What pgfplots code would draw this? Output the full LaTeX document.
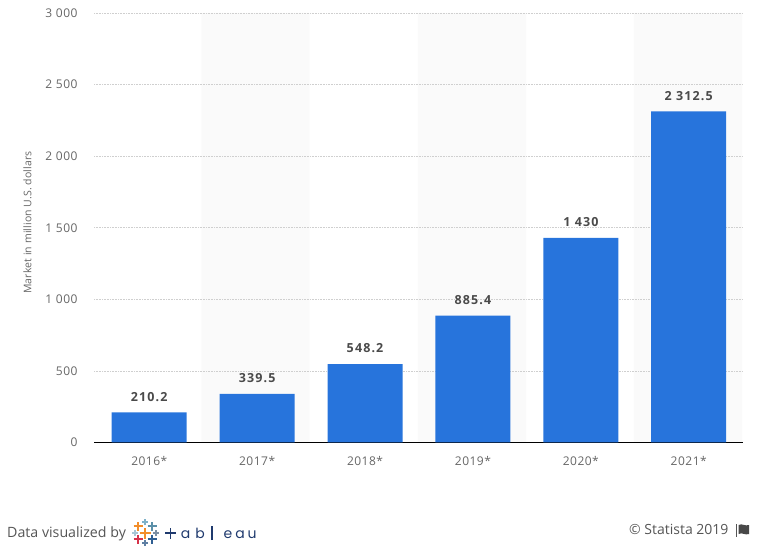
\documentclass[border=0pt]{standalone}
\usepackage{fontspec}
\setmainfont{Open Sans}
\newfontfamily\tickfont[LetterSpace=4]{Open Sans}
\newfontfamily\valfont[LetterSpace=9]{Open Sans}
\newfontfamily\axisfont[LetterSpace=1]{Open Sans}
\newfontfamily\logofont{Poppins}
\usepackage{pgfplots}
\pgfplotsset{compat=1.18}

\definecolor{barblue}{HTML}{2774DC}
\definecolor{bandgrey}{HTML}{FAFAFA}
\definecolor{gridgrey}{HTML}{CFCFCF}
\definecolor{ticktext}{HTML}{666666}
\definecolor{labeltext}{HTML}{4A4A4A}
\definecolor{foottext}{HTML}{555555}
\definecolor{navy}{HTML}{1F3A6E}

\begin{document}
\begin{tikzpicture}
\path (0pt,0pt) rectangle (767pt,551pt);
\begin{axis}[
    at={(94pt,108.5pt)},
    anchor=south west,
    scale only axis,
    width=649pt,
    height=429.5pt,
    set layers,
    xmin=-0.512, xmax=5.503,
    ymin=0, ymax=3000,
    axis lines*=left,
    y axis line style={draw=none},
    x axis line style={draw=black, line width=0.9pt, -},
    xtick={0,1,2,3,4,5},
    xticklabels={2016*,2017*,2018*,2019*,2020*,2021*},
    ytick={0,500,1000,1500,2000,2500,3000},
    yticklabels={0,500,1 000,1 500,2 000,2 500,3 000},
    major tick length=0pt,
    ymajorgrids,
    grid style={gridgrey, dash pattern=on 0.8pt off 0.8pt, line width=0.8pt},
    tick label style={font=\tickfont\fontsize{12}{14}\selectfont, text=ticktext},
    x tick label style={yshift=-10pt},
    y tick label style={xshift=-13pt},
    ylabel={Market in million U.S. dollars},
    ylabel style={at={(axis description cs:-0.1025,0.512)}, anchor=center,
        font=\axisfont\fontsize{10.5}{12}\selectfont, text=ticktext},
    clip=false,
]
% alternating bands behind the grid
\addplot[on layer=axis background, ybar, bar width=108.3pt, bar shift=0pt, fill=bandgrey, draw=none]
    coordinates {(0.984,3000) (2.992,3000) (4.994,3000)};
\addplot[ybar, bar width=75pt, bar shift=0pt, fill=barblue, draw=none,
    point meta=explicit symbolic,
    nodes near coords,
    every node near coord/.style={anchor=south, inner sep=0pt, yshift=11pt,
        font=\valfont\fontsize{12.5}{14}\selectfont\bfseries, text=labeltext}]
    coordinates {
    (0,210.2) [210.2]
    (1,339.5) [339.5]
    (2,548.2) [548.2]
    (3,885.4) [885.4]
    (4,1430) [1 430]
    (5,2312.5) [2 312.5]
    };
\end{axis}
\begin{scope}[x=1pt,y=1pt]
% footer
\node[anchor=base west, inner sep=0pt, text=foottext, font=\fontsize{14.2}{16}\selectfont] at (7,13.5) {Data visualized by};
\node[anchor=base west, inner sep=0pt, text=foottext, font=\fontsize{14}{16}\selectfont] at (629,16.5) {© Statista 2019};
% flag
\draw[foottext, line width=0.9pt] (736,27) -- (736,14);
\fill[foottext!85!black] (738.5,26) .. controls (742,28) and (745,24.5) .. (749,26) -- (749,17)
    .. controls (745,15.5) and (742,19) .. (738.5,17) -- cycle;
% tableau mark
\foreach \cx/\cy/\r/\c in {145/18/5.5/F28E2B, 138/25/4.5/F28E2B, 145/29/3/7FB2C9, 152/25/4.5/5B8FA8,
    135/18/3/A9C7D6, 156/18/3/7C8FA3, 138/12/4.5/D6324A, 145/8/3/5E7FA3, 152/12/4.5/2F5F92} {
    \definecolor{tmp}{HTML}{\c}
    \draw[tmp, line width=1.4pt] (\cx-\r,\cy) -- (\cx+\r,\cy) (\cx,\cy-\r) -- (\cx,\cy+\r);
}
\foreach \lx/\ch in {185.5/a,200/b,228/e,240/a,252/u} {
    \node[text=navy, inner sep=0pt, anchor=base, font=\logofont\fontsize{14}{16}\selectfont] at (\lx,13) {\ch};
}
\draw[navy, line width=1.8pt] (165,18) -- (176,18) (170.5,12.5) -- (170.5,23.5);
\draw[navy, line width=1.4pt] (212,11) -- (212,25);
\end{scope}
\end{tikzpicture}
\end{document}
